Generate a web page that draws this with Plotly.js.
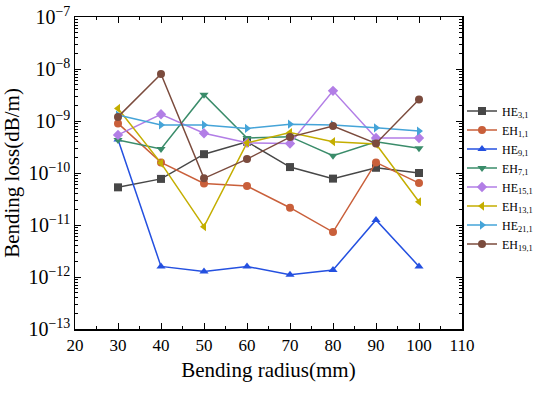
<!DOCTYPE html>
<html>
<head>
<meta charset="utf-8">
<script src="https://cdn.plot.ly/plotly-3.0.1.min.js"></script>
<style>body{margin:0;background:#fff}#chart{width:550px;height:396px}</style>
</head>
<body>
<div id="chart"></div>
<script>
const radius = [30, 40, 50, 60, 70, 80, 90, 100];
const names = ["HE<sub>3,1</sub>", "EH<sub>1,1</sub>", "HE<sub>9,1</sub>", "EH<sub>7,1</sub>",
               "HE<sub>15,1</sub>", "EH<sub>13,1</sub>", "HE<sub>21,1</sub>", "EH<sub>19,1</sub>"];
const HE3_1  = [5.3e-11, 7.7e-11, 2.3e-10, 4.0e-10, 1.3e-10, 7.8e-11, 1.26e-10, 1.0e-10];
const EH1_1  = [9.0e-10, 1.6e-10, 6.3e-11, 5.6e-11, 2.15e-11, 7.3e-12, 1.6e-10, 6.4e-11];
const HE9_1  = [4.4e-10, 1.6e-12, 1.27e-12, 1.6e-12, 1.1e-12, 1.36e-12, 1.25e-11, 1.6e-12];
const EH7_1  = [4.3e-10, 2.9e-10, 3.2e-9, 4.7e-10, 5.0e-10, 2.15e-10, 4.0e-10, 3.0e-10];
const HE15_1 = [5.4e-10, 1.35e-9, 5.8e-10, 3.8e-10, 3.7e-10, 3.8e-9, 4.7e-10, 4.7e-10];
const EH13_1 = [1.74e-9, 1.55e-10, 9.3e-12, 3.8e-10, 6.0e-10, 4.0e-10, 3.6e-10, 2.8e-11];
const HE21_1 = [1.3e-9, 8.4e-10, 8.4e-10, 7.2e-10, 8.7e-10, 8.4e-10, 7.4e-10, 6.4e-10];
const EH19_1 = [1.2e-9, 8.0e-9, 7.9e-11, 1.85e-10, 4.9e-10, 8.0e-10, 3.7e-10, 2.6e-9];

const series = [HE3_1, EH1_1, HE9_1, EH7_1, HE15_1, EH13_1, HE21_1, EH19_1];
const colors = ["#474747", "#c95f3a", "#2450e0", "#3a8c6a", "#b27ee6", "#c4ae00", "#45a4d8", "#7b4b3d"];
const symbols = ["square", "circle", "triangle-up", "triangle-down", "diamond", "triangle-left", "triangle-right", "circle"];

const traces = series.map((ys, i) => ({
  x: radius, y: ys, name: names[i], type: "scatter", mode: "lines+markers",
  line: {color: colors[i], width: 1.5},
  marker: {color: colors[i], symbol: symbols[i], size: 8}
}));

const serif = "Liberation Serif, Times New Roman, serif";
const layout = {
  width: 550, height: 396,
  margin: {l: 75, r: 73, t: 17, b: 67},
  paper_bgcolor: "#fff", plot_bgcolor: "#fff",
  font: {family: serif, color: "#000", size: 14},
  showlegend: true,
  legend: {x: 1.0, y: 0.745, xanchor: "left", yanchor: "top", bgcolor: "rgba(0,0,0,0)",
           font: {family: serif, size: 12}, tracegroupgap: 0, itemwidth: 30},
  xaxis: {
    range: [20, 110], dtick: 10, tick0: 20, showline: true, linecolor: "#000", linewidth: 1.5,
    mirror: "allticks", ticks: "inside", ticklen: 6, tickcolor: "#000", showgrid: false, zeroline: false,
    minor: {dtick: 5, ticks: "inside", ticklen: 3, tickcolor: "#000", showgrid: false},
    tickfont: {family: serif, size: 17},
    title: {text: "Bending radius(mm)", font: {family: serif, size: 21}, standoff: 8}
  },
  yaxis: {
    type: "log", range: [-13, -7], dtick: 1, exponentformat: "power", showline: true, linecolor: "#000", linewidth: 1.5,
    mirror: "allticks", ticks: "inside", ticklen: 6, tickcolor: "#000", showgrid: false, zeroline: false,
    minor: {ticks: "inside", ticklen: 3, tickcolor: "#000", showgrid: false},
    tickfont: {family: serif, size: 16},
    title: {text: "Bending loss(dB/m)", font: {family: serif, size: 21}, standoff: 4}
  }
};
Plotly.newPlot("chart", traces, layout, {displayModeBar: false, staticPlot: true});
</script>
</body>
</html>
